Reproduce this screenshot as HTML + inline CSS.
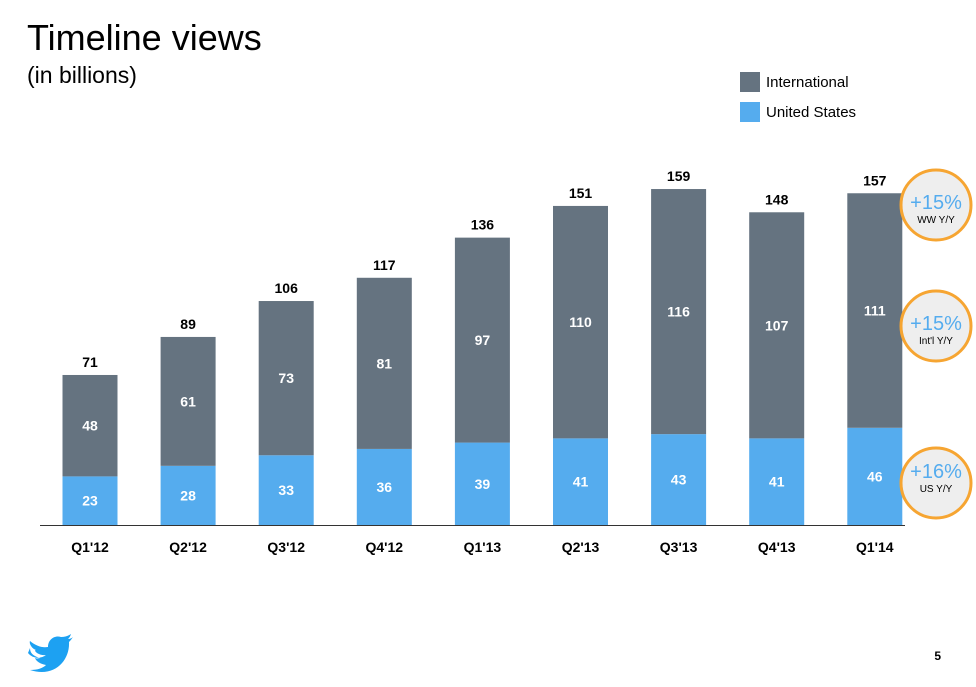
<!DOCTYPE html>
<html><head><meta charset="utf-8"><style>
body{margin:0;background:#fff;font-family:"Liberation Sans",Arial,sans-serif;}
svg{display:block}
</style></head><body>
<svg id="c" width="976" height="687" viewBox="0 0 976 687" xmlns="http://www.w3.org/2000/svg">
<text x="27" y="50" font-size="36" fill="#000">Timeline views</text>
<text x="27" y="83" font-size="23" fill="#000">(in billions)</text>
<g>
<rect x="740" y="72" width="20" height="20" fill="#657380"/>
<text x="766" y="87" font-size="15">International</text>
<rect x="740" y="102" width="20" height="20" fill="#55acee"/>
<text x="766" y="117" font-size="15">United States</text>
</g>
<g id="bars"></g>
<line x1="40" y1="525.5" x2="905" y2="525.5" stroke="#333" stroke-width="1"/>
<g>
<circle cx="936" cy="205" r="35" fill="#eeeeee" stroke="#f6a532" stroke-width="3"/>
<text x="936" y="209" font-size="20" fill="#55acee" text-anchor="middle">+15%</text>
<text x="936" y="223" font-size="10" text-anchor="middle">WW Y/Y</text>
<circle cx="936" cy="326" r="35" fill="#eeeeee" stroke="#f6a532" stroke-width="3"/>
<text x="936" y="330" font-size="20" fill="#55acee" text-anchor="middle">+15%</text>
<text x="936" y="344" font-size="10" text-anchor="middle">Int'l Y/Y</text>
<circle cx="936" cy="483" r="35" fill="#eeeeee" stroke="#f6a532" stroke-width="3"/>
<text x="936" y="478" font-size="20" fill="#55acee" text-anchor="middle">+16%</text>
<text x="936" y="492" font-size="10" text-anchor="middle">US Y/Y</text>
</g>
<path d="M28 653 C34 660 42 658 46 655 C38 656 33 650 36 650 C31 648 29 643 30 641 C36 646 42 648 48 647 C48 640 54 635 61 637 C65 637 68 636 71 634 C70 637 69 638 68 639 C70 639 72 638 73 637 C71 640 70 641 69 642 C70 660 55 678 30 670 C38 670 43 668 46 665 C40 664 36 661 35 658 C37 659 39 658 40 658 C33 656 30 653 30 648 Z" fill="#1da1f2"/>
<text x="941" y="660" font-size="12" font-weight="bold" text-anchor="end">5</text>
</svg>
<script>
const categories=["Q1'12","Q2'12","Q3'12","Q4'12","Q1'13","Q2'13","Q3'13","Q4'13","Q1'14"];
const usValues=[23,28,33,36,39,41,43,41,46];
const intlValues=[48,61,73,81,97,110,116,107,111];
const totalValues=[71,89,106,117,136,151,159,148,157];
const baseY=525, pxPerUnit=2.113, firstX=90, step=98.1, barW=55;
const y=v=>baseY-v*pxPerUnit;
const xc=i=>firstX+i*step;
const g=document.getElementById('bars');
const NS='http://www.w3.org/2000/svg';
function mk(tag,attrs,txt){const e=document.createElementNS(NS,tag);for(const k in attrs)e.setAttribute(k,attrs[k]);if(txt!==undefined)e.textContent=txt;g.appendChild(e);return e;}
categories.forEach((c,i)=>{
  const u=usValues[i], n=intlValues[i], t=totalValues[i];
  let r=mk('rect',{x:xc(i)-barW/2,y:y(u),width:barW,height:u*pxPerUnit,fill:'#55acee'});
  
  
  r=mk('rect',{x:xc(i)-barW/2,y:y(u+n),width:barW,height:n*pxPerUnit,fill:'#657380'});
  
  
  let e=mk('text',{x:xc(i),y:(y(0)+y(u))/2+5,'font-size':14,'font-weight':'bold',fill:'#fff','text-anchor':'middle'},u);
  
  
  e=mk('text',{x:xc(i),y:(y(u)+y(u+n))/2+5,'font-size':14,'font-weight':'bold',fill:'#fff','text-anchor':'middle'},n);
  
  
  e=mk('text',{x:xc(i),y:y(t)-8,'font-size':14,'font-weight':'bold',fill:'#000','text-anchor':'middle'},t);
  
  
  e=mk('text',{x:xc(i),y:552,'font-size':14,'font-weight':'bold',fill:'#000','text-anchor':'middle'},c);
  
  
});
</script>
</body></html>
